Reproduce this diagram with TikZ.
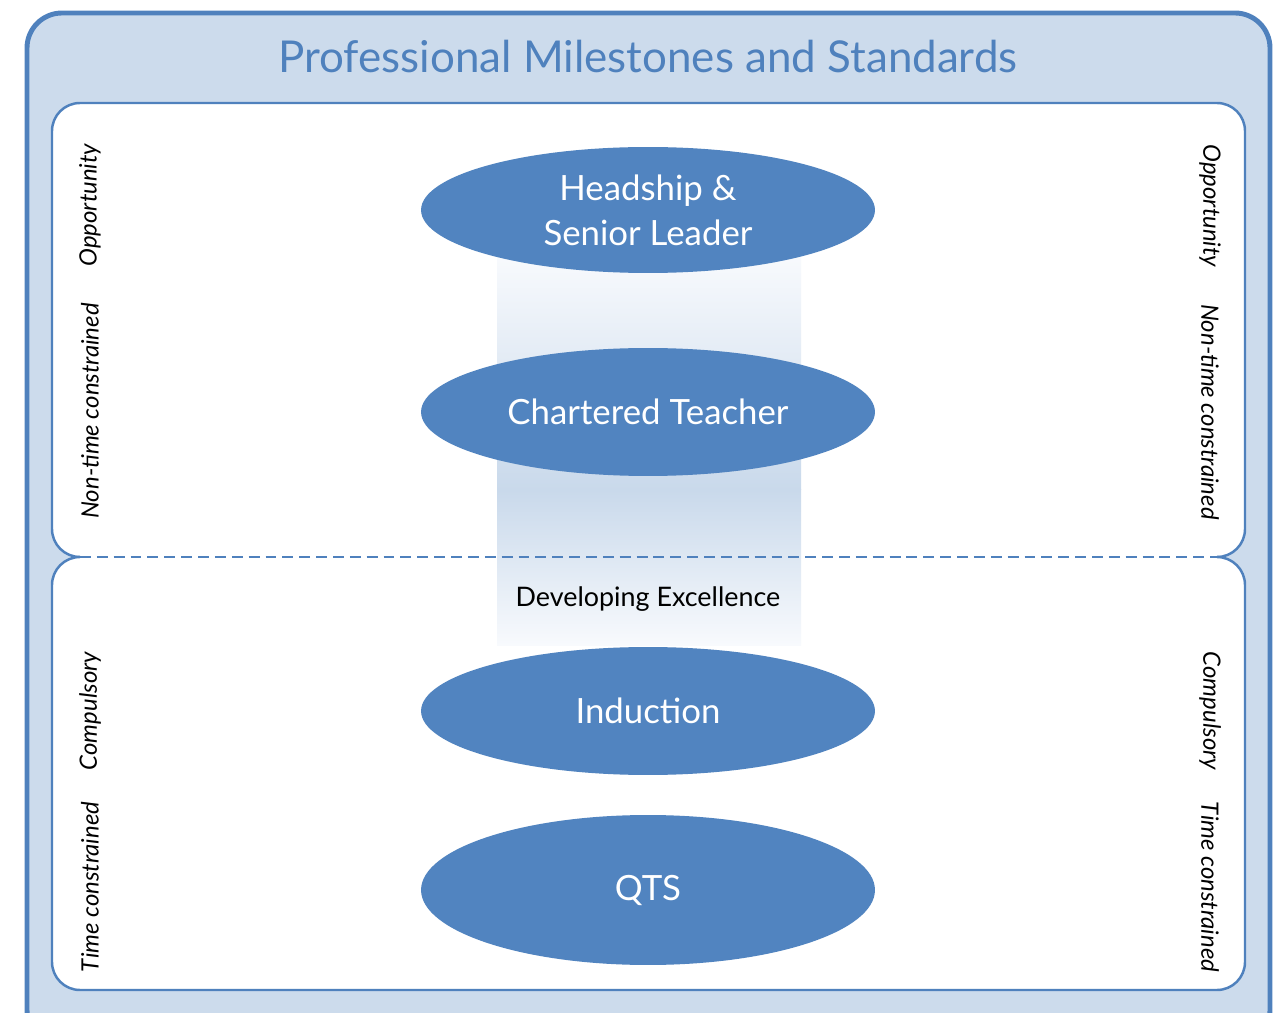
\documentclass[tikz,border=0pt]{standalone}
\usepackage{fontspec}
\setmainfont{Lato}
\usetikzlibrary{shapes.geometric}
\definecolor{frameblue}{HTML}{4F81BD}
\definecolor{panelfill}{HTML}{CCDBEC}
\definecolor{ellfill}{HTML}{5184C0}
\definecolor{bandmid}{HTML}{C9D9EB}
\definecolor{bandlight}{HTML}{F8FAFD}
\tikzset{
  milestone/.style={ellipse, fill=ellfill, draw=none, inner sep=0pt,
    minimum width=9.08cm, text=white, font=\fontsize{19.8}{25.5}\selectfont, align=center},
  sidelabel/.style={font=\fontsize{13.6}{16}\selectfont\itshape, text=black, inner sep=0pt},
  panel/.style={fill=white, draw=frameblue, line width=1.4pt, rounded corners=0.56cm},
}
\begin{document}
\begin{tikzpicture}[x=0.02cm, y=-0.02cm]
\clip (0,0) rectangle (1275,1013);
% outer frame
\draw[fill=panelfill, draw=frameblue, line width=2.8pt, rounded corners=0.7cm] (27,13) rectangle (1270,1045);
\node[text=frameblue, font=\fontsize{25}{30}\selectfont, inner sep=0pt] (title) at (648,57) {Professional Milestones and Standards};
% panels
\draw[panel] (80,557) -- (52,557) -- (52,103) -- (1245,103) -- (1245,557) -- (1217,557);
\draw[panel] (80,557) -- (52,557) -- (52,990) -- (1245,990) -- (1245,557) -- (1217,557);
% gradient band
\shade[top color=bandlight, bottom color=bandmid] (497,255) rectangle (801,490);
\shade[top color=bandmid, bottom color=bandlight] (497,490) rectangle (801,645);
% dashed divider
\coordinate (dl) at (80,557);
\coordinate (dr) at (1217,557);
\draw[frameblue, line width=1.7pt, dash pattern=on 6.2pt off 3.4pt] (dl) -- (dr);
% milestones
\node[milestone, minimum height=2.52cm] (head) at (648,210) {Headship \&\\Senior Leader};
\node[milestone, minimum height=2.56cm] (chart) at (648,412) {Chartered Teacher};
\node[milestone, minimum height=2.56cm] (ind) at (648,711) {Induction};
\node[milestone, minimum height=3.0cm] (qts) at (648,890) {QTS};
\node[font=\fontsize{15.3}{18}\selectfont, inner sep=0pt] (dev) at (648,599) {Developing Excellence};
% side labels
\node[sidelabel, rotate=90] (lopp) at (90,205) {Opportunity};
\node[sidelabel, rotate=90] (lnon) at (90,411) {Non-time constrained};
\node[sidelabel, rotate=90] (lcomp) at (90,711) {Compulsory};
\node[sidelabel, rotate=90] (ltime) at (90,887) {Time constrained};
\node[sidelabel, rotate=-90] (ropp) at (1210,206) {Opportunity};
\node[sidelabel, rotate=-90] (rnon) at (1210,412) {Non-time constrained};
\node[sidelabel, rotate=-90] (rcomp) at (1210,711) {Compulsory};
\node[sidelabel, rotate=-90] (rtime) at (1210,887) {Time constrained};
\end{tikzpicture}
\end{document}
